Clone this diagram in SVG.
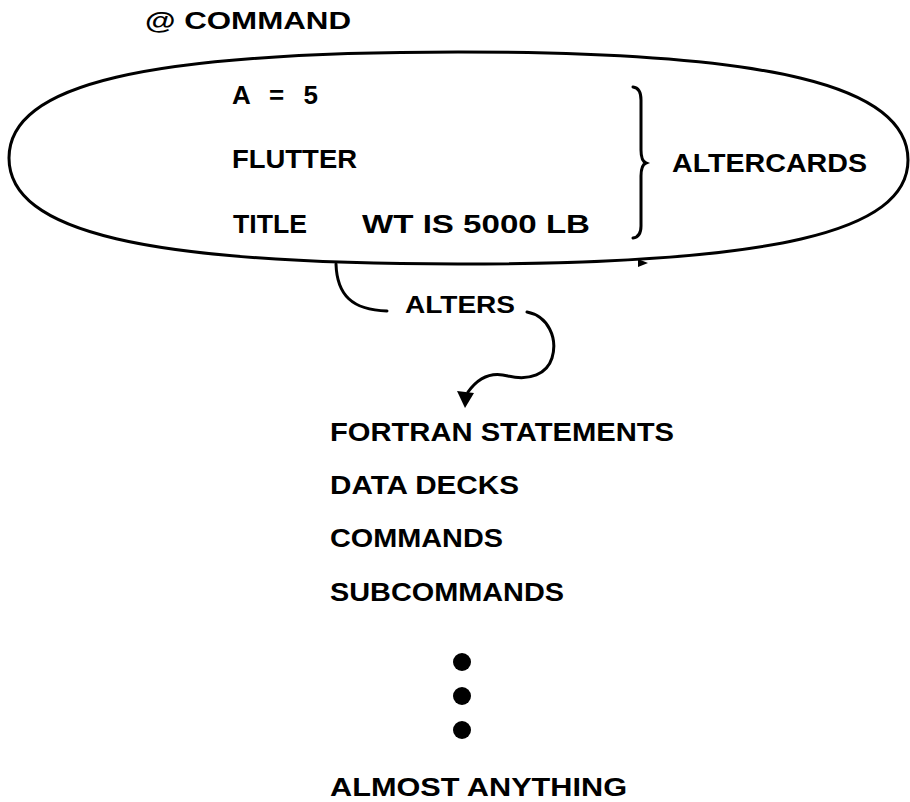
<svg xmlns="http://www.w3.org/2000/svg" width="910" height="802" viewBox="0 0 910 802">
<style>
text{font-family:"Liberation Sans",Arial,sans-serif;font-weight:bold;fill:#000}
.big{font-size:25px}
.card{font-size:26px}
.ln{fill:none;stroke:#000;stroke-width:3;stroke-linecap:round}
</style>
<rect width="910" height="802" fill="#fff"/>
<g id="command-label"><text class="big" style="font-size:24px" x="145" y="29" textLength="206" lengthAdjust="spacingAndGlyphs">@ COMMAND</text></g>
<g id="altercards-ellipse">
<path class="ln" d="M9,158 C9,84 145,52 458,52 C773,52 908,86 908,160 C908,232 773,264 458,264 C145,264 9,232 9,158 Z"/>
<path d="M638,259 L648,263 L638,267 Z" fill="#000"/>
<text class="card" x="232" y="104" textLength="86" lengthAdjust="spacing">A = 5</text>
<text class="card" x="232" y="168" textLength="125" lengthAdjust="spacingAndGlyphs">FLUTTER</text>
<text class="card" x="233" y="233" textLength="74" lengthAdjust="spacingAndGlyphs">TITLE</text>
<text class="card" x="362" y="233" textLength="228" lengthAdjust="spacingAndGlyphs">WT IS 5000 LB</text>
<path class="ln" stroke-width="2.2" d="M633,87 Q641,88 641,100 L641,150 Q641,161 646,163 Q641,165 641,176 L641,226 Q641,237 633,238"/>
<text class="big" x="672" y="172" textLength="195" lengthAdjust="spacingAndGlyphs">ALTERCARDS</text>
</g>
<g id="alters-label"><text class="big" style="font-size:24px" x="405" y="313" textLength="110" lengthAdjust="spacingAndGlyphs">ALTERS</text></g>
<g id="connectors">
<path class="ln" d="M336,264 C337,295 352,310 387,311"/>
<path class="ln" d="M527,312 C548,316 558,338 552,358 C547,374 530,381 508,376 C494,372 480,375 468,392"/>
<path d="M457,391 L474,393 L465,408 Z" fill="#000"/>
</g>
<g id="targets">
<text class="big" x="330" y="441" textLength="344" lengthAdjust="spacingAndGlyphs">FORTRAN STATEMENTS</text>
<text class="big" x="330" y="494" textLength="189" lengthAdjust="spacingAndGlyphs">DATA DECKS</text>
<text class="big" x="330" y="547" textLength="173" lengthAdjust="spacingAndGlyphs">COMMANDS</text>
<text class="big" x="330" y="601" textLength="234" lengthAdjust="spacingAndGlyphs">SUBCOMMANDS</text>
<circle cx="462" cy="662" r="9"/>
<circle cx="462" cy="696" r="9"/>
<circle cx="462" cy="730" r="9"/>
<text class="big" x="330" y="796" textLength="297" lengthAdjust="spacingAndGlyphs">ALMOST ANYTHING</text>
</g>
</svg>
